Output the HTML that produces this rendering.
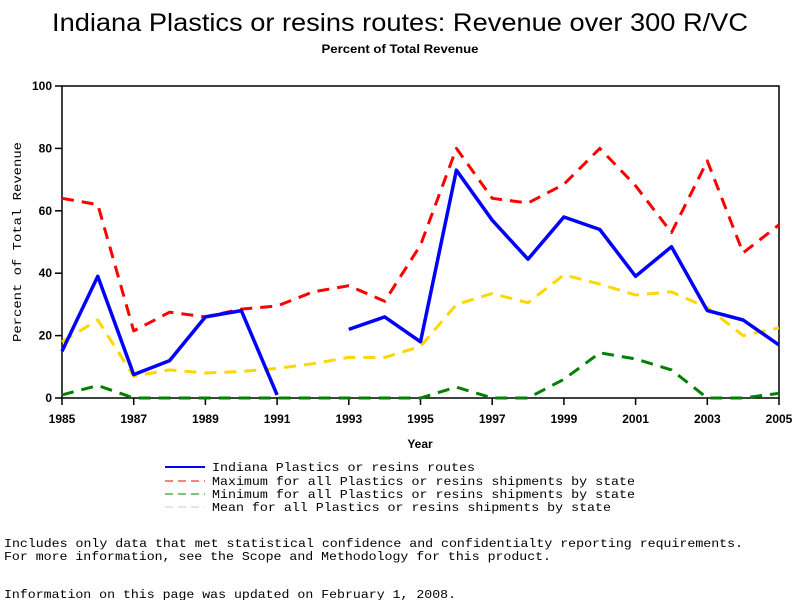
<!DOCTYPE html>
<html><head><meta charset="utf-8"><style>
body{margin:0;background:#fff;width:800px;height:600px;overflow:hidden;font-family:"Liberation Sans",sans-serif}
svg text{font-family:"Liberation Sans",sans-serif}
svg text.mono{font-family:"Liberation Mono",monospace}
</style></head><body>
<svg id="chart" width="800" height="600">
<text x="400" y="31" font-size="25" text-anchor="middle" textLength="696" lengthAdjust="spacingAndGlyphs">Indiana Plastics or resins routes: Revenue over 300 R/VC</text>
<text x="400" y="53" font-size="12" font-weight="bold" text-anchor="middle" textLength="157" lengthAdjust="spacingAndGlyphs">Percent of Total Revenue</text>
<rect x="62" y="86" width="717" height="312" fill="none" stroke="#000" stroke-width="1.5"/>
<g id="axes"></g>
<g id="series"></g>
<text x="420" y="448" font-size="12" font-weight="bold" text-anchor="middle">Year</text>
<text transform="translate(21,242) rotate(-90)" font-size="12" class="mono" text-anchor="middle" textLength="200" lengthAdjust="spacingAndGlyphs">Percent of Total Revenue</text>
<g font-size="12">
<line x1="165" y1="467" x2="205" y2="467" stroke="#00f" stroke-width="2"/>
<text x="212" y="471" class="mono" textLength="263" lengthAdjust="spacingAndGlyphs">Indiana Plastics or resins routes</text>
<line x1="165" y1="481" x2="205" y2="481" stroke="#f00" stroke-width="1" stroke-dasharray="8,5"/>
<text x="212" y="485" class="mono" textLength="423" lengthAdjust="spacingAndGlyphs">Maximum for all Plastics or resins shipments by state</text>
<line x1="165" y1="494" x2="205" y2="494" stroke="#008000" stroke-width="1" stroke-dasharray="8,5"/>
<text x="212" y="498" class="mono" textLength="423" lengthAdjust="spacingAndGlyphs">Minimum for all Plastics or resins shipments by state</text>
<line x1="165" y1="507" x2="205" y2="507" stroke="#ccc" stroke-width="1" stroke-dasharray="8,5"/>
<text x="212" y="511" class="mono" textLength="399" lengthAdjust="spacingAndGlyphs">Mean for all Plastics or resins shipments by state</text>
</g>
<text x="4" y="547" font-size="12" class="mono" textLength="739" lengthAdjust="spacingAndGlyphs">Includes only data that met statistical confidence and confidentialty reporting requirements.</text>
<text x="4" y="560" font-size="12" class="mono" textLength="547" lengthAdjust="spacingAndGlyphs">For more information, see the Scope and Methodology for this product.</text>
<text x="4" y="598" font-size="12" class="mono" textLength="452" lengthAdjust="spacingAndGlyphs">Information on this page was updated on February 1, 2008.</text>
</svg>
<script>
const years=[1985,1986,1987,1988,1989,1990,1991,1992,1993,1994,1995,1996,1997,1998,1999,2000,2001,2002,2003,2004,2005];
const indiana=[15,39,7.5,12,26,28,1,null,22,26,18,73,57,44.5,58,54,39,48.5,28,25,17];
const maximum=[64,62,21.5,27.5,26,28.5,29.5,34,36,31,49,80,64,62.5,68.5,80,68,53,76,46.5,55.5];
const minimum=[1,4,0,0,0,0,0,0,0,0,0,3.5,0,0,6,14.5,12.5,9,0,0,1.5];
const mean=[18,25,7,9,8,8.5,9.5,11,13,13,16.5,30,33.5,30.5,39.5,36.5,33,34,29,20,22.5];
const xTicks=[1985,1987,1989,1991,1993,1995,1997,1999,2001,2003,2005];
const yTicks=[0,20,40,60,80,100];
const NS="http://www.w3.org/2000/svg";
const X=y=>62+(y-1985)*(717/20);
const Y=v=>398-v*3.12;
const axes=document.getElementById('axes'),ser=document.getElementById('series');
function mk(t,a,p){const e=document.createElementNS(NS,t);for(const k in a)e.setAttribute(k,a[k]);p.appendChild(e);return e;}
xTicks.forEach(t=>{
 const l=mk('line',{x1:X(t),x2:X(t),y1:398,y2:405,stroke:'#000','stroke-width':1.5},axes);
 
 
 const tx=mk('text',{x:X(t),y:423,'font-size':12,'font-weight':'bold','text-anchor':'middle'},axes);tx.textContent=t;
 
 
});
yTicks.forEach(t=>{
 const l=mk('line',{x1:55,x2:62,y1:Y(t),y2:Y(t),stroke:'#000','stroke-width':1.5},axes);
 
 
 const tx=mk('text',{x:52,y:Y(t)+4,'font-size':12,'font-weight':'bold','text-anchor':'end'},axes);tx.textContent=t;
 
 
});
function draw(vals,color,w,dash,name){
 let d='',pen=false;
 vals.forEach((v,i)=>{if(v===null){pen=false;return;}d+=(pen?'L':'M')+X(years[i]).toFixed(1)+' '+Y(v).toFixed(1);pen=true;});
 const p=mk('path',{d:d,fill:'none',stroke:color,'stroke-width':w,'stroke-linejoin':'round'},ser);
 if(dash)p.setAttribute('stroke-dasharray',dash);
 
 
}
draw(minimum,'#008000',3,'12,8','minimum-line');
draw(mean,'#ffd700',3,'12,8','mean-line');
draw(maximum,'#f00',3,'12,8','maximum-line');
draw(indiana,'#00f',3.5,null,'indiana-line');
</script>
</body></html>
